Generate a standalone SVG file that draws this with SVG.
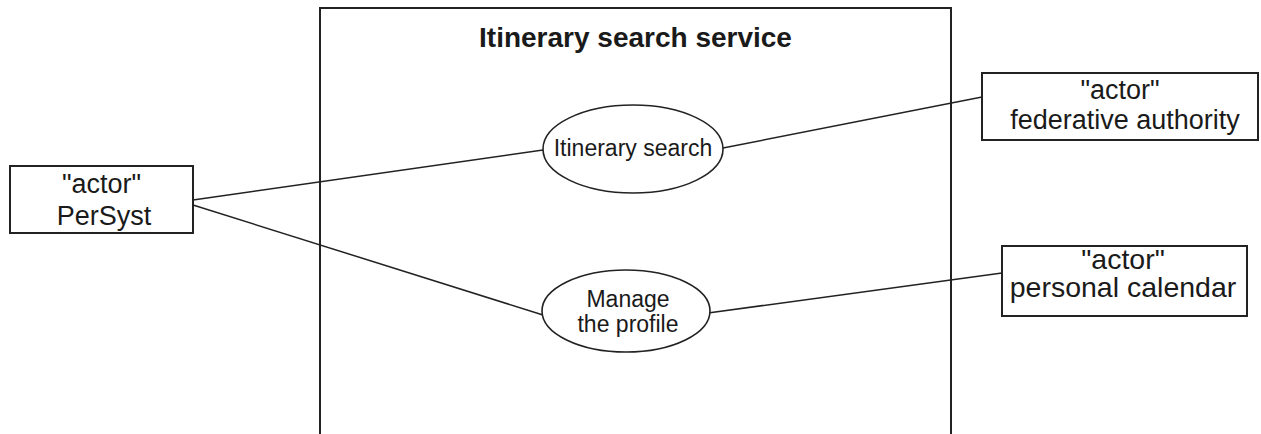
<svg xmlns="http://www.w3.org/2000/svg" width="1261" height="434" viewBox="0 0 1261 434">
<style>
.box{fill:#fff;stroke:#222;stroke-width:2}
.uc{fill:#fff;stroke:#222;stroke-width:1.6}
.ln{stroke:#222;stroke-width:1.5;fill:none}
text{font-family:"Liberation Sans",Arial,sans-serif;fill:#1a1a1a;text-anchor:middle}
.t{font-size:27px}
.p{font-size:28.5px}
.u{font-size:23px}
.title{font-size:28px;font-weight:bold}
</style>
<rect width="1261" height="434" fill="#fff"/>
<g id="system">
<rect class="box" x="320" y="8" width="631" height="440"/>
<text class="title" x="635.5" y="47">Itinerary search service</text>
</g>
<g id="connectors">
<line class="ln" x1="193" y1="200" x2="543" y2="150"/>
<line class="ln" x1="193" y1="205" x2="543" y2="315"/>
<line class="ln" x1="723" y1="148" x2="982" y2="97"/>
<line class="ln" x1="708" y1="313" x2="1002" y2="273"/>
</g>
<g id="persyst">
<rect class="box" x="10" y="166" width="183" height="67"/>
<text class="t" x="101.5" y="193">"actor"</text>
<text class="t" x="104" y="225">PerSyst</text>
</g>
<g id="itinerary-search">
<ellipse class="uc" cx="633" cy="149" rx="90" ry="44"/>
<text class="u" x="633" y="156">Itinerary search</text>
</g>
<g id="manage-profile">
<ellipse class="uc" cx="626" cy="311" rx="84" ry="41"/>
<text class="u" x="628" y="307">Manage</text>
<text class="u" x="628" y="332">the profile</text>
</g>
<g id="federative-authority">
<rect class="box" x="982" y="73" width="276" height="67"/>
<text class="t" x="1120" y="99">"actor"</text>
<text class="t" x="1125" y="129">federative authority</text>
</g>
<g id="personal-calendar">
<rect class="box" x="1002" y="246" width="245" height="70"/>
<text class="p" x="1123" y="269">"actor"</text>
<text class="p" x="1123" y="297">personal calendar</text>
</g>
</svg>
